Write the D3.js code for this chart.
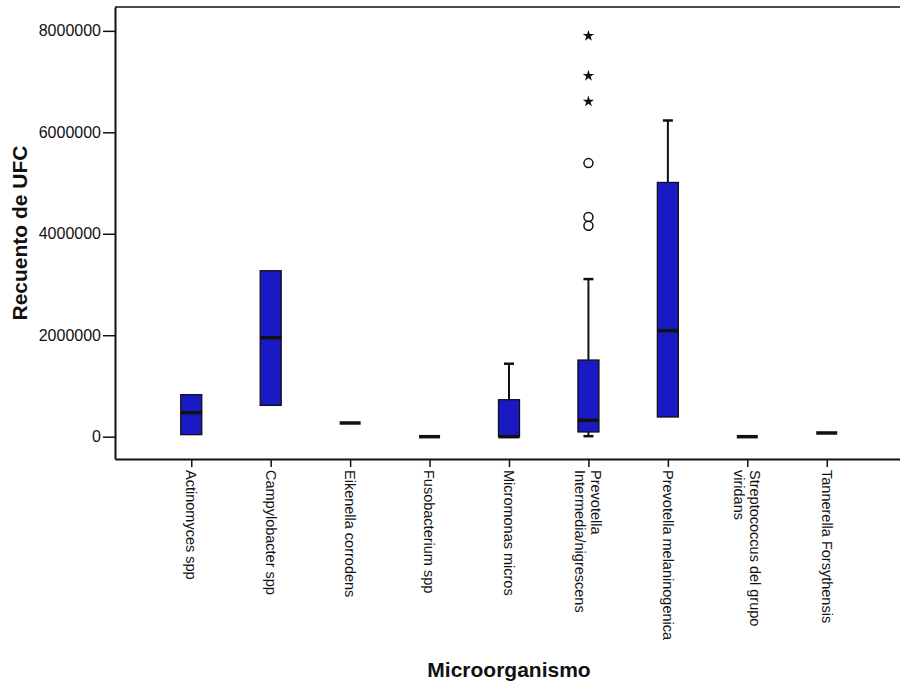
<!DOCTYPE html>
<html>
<head>
<meta charset="utf-8">
<script src="https://cdn.jsdelivr.net/npm/d3@7"></script>
<style>
  body { margin: 0; background: #fff; }
  text { font-family: "Liberation Sans", Arial, sans-serif; }
</style>
</head>
<body>
<svg id="chart"></svg>
<script>

// chart data

var categories = ["Actinomyces spp", "Campylobacter spp", "Eikenella corrodens", "Fusobacterium spp",
  "Micromonas micros", "Prevotella\nIntermedia/nigrescens", "Prevotella melaninogenica",
  "Streptococcus del grupo\nviridans", "Tannerella Forsythensis"];

var whiskerLow  = [40000, 617000, 270000, 0, 0, 10000, 388000, 0, 73000];
var q1          = [40000, 617000, 270000, 0, 0, 93000, 388000, 0, 73000];
var median      = [473000, 1951000, 270000, 0, 0, 321000, 2089000, 0, 73000];
var q3          = [828000, 3271000, 270000, 0, 729000, 1511000, 5011000, 0, 73000];
var whiskerHigh = [828000, 3271000, 270000, 0, 1438000, 3107000, 6233000, 0, 73000];

// outliers (circles) and extremes (stars): [category index, value]
var outliers = [[5, 5393000], [5, 4329000], [5, 4158000]];
var extremes = [[5, 7901000], [5, 7113000], [5, 6607000]];

var yTicks = [0, 2000000, 4000000, 6000000, 8000000];

// svg params

var svgWidth = 900, svgHeight = 684;
var plotLeft = 115, plotRight = 903, plotTop = 7, plotBottom = 459;
var boxWidth = 21, capWidth = 10;
var boxColor = "#1a1ac4";

var svg = d3.select("#chart")
    .attr("width", svgWidth)
    .attr("height", svgHeight);

var xScale = d3.scalePoint()
    .domain(d3.range(categories.length))
    .range([plotLeft, plotRight])
    .padding(0.96);

var yScale = d3.scaleLinear()
    .domain([-440000, 8470000])
    .range([plotBottom, plotTop]);

// frame top line

svg.append("line")
    .attr("x1", plotLeft).attr("x2", plotRight)
    .attr("y1", plotTop).attr("y2", plotTop)
    .attr("stroke", "#111").attr("stroke-width", 1.5);

// y axis

var yAxis = svg.append("g")
    .attr("transform", "translate(" + plotLeft + ",0)")
    .call(d3.axisLeft(yScale).tickValues(yTicks).tickFormat(d3.format("d"))
      .tickSize(12).tickSizeOuter(0).tickPadding(2));
yAxis.select(".domain").attr("stroke", "#111").attr("stroke-width", 2);
yAxis.selectAll(".tick line").attr("stroke", "#111").attr("stroke-width", 1.5);
yAxis.selectAll(".tick text")
    .attr("fill", "#111")
    .style("font-size", "16px");

// x axis

var xAxis = svg.append("g")
    .attr("transform", "translate(0," + plotBottom + ")")
    .call(d3.axisBottom(xScale).tickSize(8).tickSizeOuter(0).tickFormat(""));
xAxis.select(".domain").attr("stroke", "#111").attr("stroke-width", 2);
xAxis.selectAll(".tick line").attr("stroke", "#111").attr("stroke-width", 1.5);

// rotated category labels

var labels = svg.append("g").selectAll("text")
    .data(categories)
    .enter()
    .append("text")
    .attr("transform", function (d, i) {
      return "translate(" + xScale(i) + ",470) rotate(90)";
    })
    .attr("text-anchor", "start")
    .attr("fill", "#111")
    .style("font-size", "14.5px");

labels.each(function (d) {
  var lines = d.split("\n");
  var lineH = 1.1;
  var first = 0.35 - (lines.length - 1) * lineH / 2;
  d3.select(this).selectAll("tspan")
    .data(lines)
    .enter()
    .append("tspan")
    .attr("x", 0)
    .attr("dy", function (l, j) { return (j == 0 ? first : lineH) + "em"; })
    .text(function (l) { return l; });
});

// boxes

var boxes = svg.append("g").selectAll("g")
    .data(categories)
    .enter()
    .append("g");

// whiskers

boxes.each(function (d, i) {
  var g = d3.select(this);
  var cx = xScale(i);
  if (whiskerHigh[i] > q3[i]) {
    g.append("line").attr("x1", cx).attr("x2", cx)
      .attr("y1", yScale(q3[i])).attr("y2", yScale(whiskerHigh[i]))
      .attr("stroke", "#111").attr("stroke-width", 2);
    g.append("line").attr("x1", cx - capWidth / 2).attr("x2", cx + capWidth / 2)
      .attr("y1", yScale(whiskerHigh[i])).attr("y2", yScale(whiskerHigh[i]))
      .attr("stroke", "#111").attr("stroke-width", 2.5);
  }
  if (whiskerLow[i] < q1[i]) {
    g.append("line").attr("x1", cx).attr("x2", cx)
      .attr("y1", yScale(q1[i])).attr("y2", yScale(whiskerLow[i]))
      .attr("stroke", "#111").attr("stroke-width", 2);
    g.append("line").attr("x1", cx - capWidth / 2).attr("x2", cx + capWidth / 2)
      .attr("y1", yScale(whiskerLow[i])).attr("y2", yScale(whiskerLow[i]))
      .attr("stroke", "#111").attr("stroke-width", 2.5);
  }
});

boxes.append("rect")
    .attr("x", function (d, i) { return xScale(i) - boxWidth / 2; })
    .attr("y", function (d, i) { return yScale(q3[i]); })
    .attr("width", boxWidth)
    .attr("height", function (d, i) { return yScale(q1[i]) - yScale(q3[i]); })
    .attr("fill", boxColor)
    .attr("stroke", "#111")
    .attr("stroke-width", 1.3);

boxes.append("line")
    .attr("x1", function (d, i) { return xScale(i) - boxWidth / 2; })
    .attr("x2", function (d, i) { return xScale(i) + boxWidth / 2; })
    .attr("y1", function (d, i) { return yScale(median[i]); })
    .attr("y2", function (d, i) { return yScale(median[i]); })
    .attr("stroke", "#111")
    .attr("stroke-width", 3.5);

// outliers and extremes

svg.append("g").selectAll("circle")
    .data(outliers)
    .enter()
    .append("circle")
    .attr("cx", function (d) { return xScale(d[0]); })
    .attr("cy", function (d) { return yScale(d[1]); })
    .attr("r", 4.5)
    .attr("fill", "none")
    .attr("stroke", "#111")
    .attr("stroke-width", 1.5);

svg.append("g").selectAll("path")
    .data(extremes)
    .enter()
    .append("path")
    .attr("d", d3.symbol().type(d3.symbolStar).size(40))
    .attr("transform", function (d) {
      return "translate(" + [xScale(d[0]), yScale(d[1])] + ")";
    })
    .attr("fill", "#111");

// axis titles

svg.append("text")
    .attr("transform", "translate(27," + (plotTop + plotBottom) / 2 + ") rotate(-90)")
    .attr("text-anchor", "middle")
    .attr("fill", "#111")
    .style("font-size", "21px")
    .style("font-weight", "bold")
    .text("Recuento de UFC");

svg.append("text")
    .attr("x", (plotLeft + plotRight) / 2)
    .attr("y", 677)
    .attr("text-anchor", "middle")
    .attr("fill", "#111")
    .style("font-size", "21px")
    .style("font-weight", "bold")
    .text("Microorganismo");

</script>
</body>
</html>
